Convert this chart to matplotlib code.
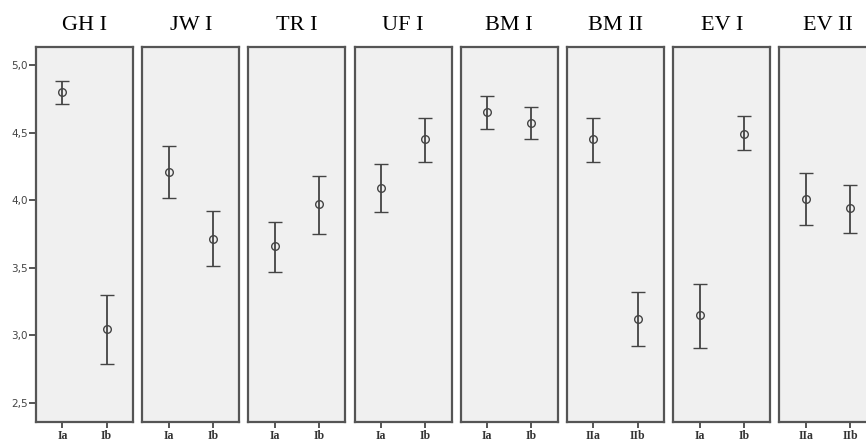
import matplotlib.pyplot as plt
import numpy as np

# Panel titles and group labels
panels = ["GH I", "JW I", "TR I", "UF I", "BM I", "BM II", "EV I", "EV II"]
groups = [["Ia", "Ib"], ["Ia", "Ib"], ["Ia", "Ib"], ["Ia", "Ib"],
          ["Ia", "Ib"], ["IIa", "IIb"], ["Ia", "Ib"], ["IIa", "IIb"]]

# Means with lower / upper bounds of the error bars
means = [[4.80, 3.05], [4.21, 3.71], [3.66, 3.97], [4.09, 4.45],
         [4.65, 4.57], [4.45, 3.12], [3.15, 4.49], [4.01, 3.94]]
lower = [[4.71, 2.79], [4.02, 3.51], [3.47, 3.75], [3.91, 4.28],
         [4.53, 4.45], [4.28, 2.92], [2.91, 4.37], [3.82, 3.76]]
upper = [[4.88, 3.30], [4.40, 3.92], [3.84, 4.18], [4.27, 4.61],
         [4.77, 4.69], [4.61, 3.32], [3.38, 4.62], [4.20, 4.11]]

yticks = [2.5, 3.0, 3.5, 4.0, 4.5, 5.0]
ytick_labels = ["2,5", "3,0", "3,5", "4,0", "4,5", "5,0"]

W, H = 866, 442
fig = plt.figure(figsize=(W / 100, H / 100), dpi=100)

edge = "#555555"
for i, name in enumerate(panels):
    left = 36 + i * 106.2
    ax = fig.add_axes([left / W, (H - 422) / H, 97 / W, 375 / H])
    ax.set_facecolor("#f0f0f0")
    for s in ax.spines.values():
        s.set_color(edge)
        s.set_linewidth(1.6)

    m = np.array(means[i])
    lo = m - np.array(lower[i])
    hi = np.array(upper[i]) - m
    ax.errorbar([0, 1], m, yerr=[lo, hi], fmt="o", color="#444444",
                mfc="none", mec="#444444", ms=5.5, mew=1.0,
                elinewidth=1.3, capsize=5, capthick=1.3)

    ax.set_xlim(-0.6, 1.6)
    ax.set_ylim(2.36, 5.133)
    ax.set_xticks([0, 1])
    ax.set_xticklabels(groups[i], fontfamily="Liberation Serif", fontsize=8.5,
                       fontweight="bold", color="#333333")
    ax.tick_params(axis="x", length=4, width=1.4, color=edge, pad=2)
    if i == 0:
        ax.set_yticks(yticks)
        ax.set_yticklabels(ytick_labels, fontsize=7.5, color="#444444")
        ax.tick_params(axis="y", length=5, width=1.4, color=edge, pad=1)
    else:
        ax.set_yticks([])
    ax.set_title(name, fontfamily="Liberation Serif", fontsize=16, pad=12)

fig.savefig("out.png", dpi=100)
